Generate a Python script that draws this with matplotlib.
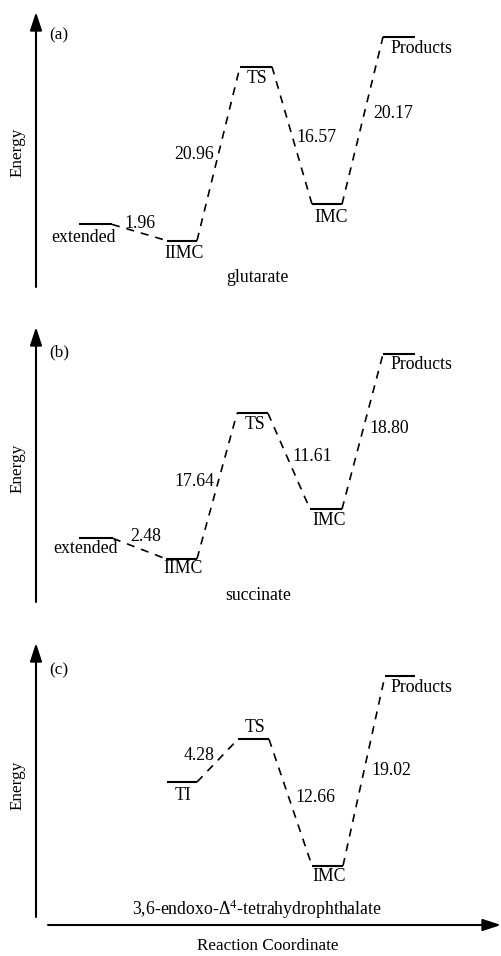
import numpy as np
import matplotlib
matplotlib.use('Agg')
import matplotlib.pyplot as plt

plt.rcParams['font.family'] = ['Liberation Serif', 'DejaVu Serif']
plt.rcParams['mathtext.fontset'] = 'custom'
plt.rcParams['mathtext.rm'] = 'Liberation Serif'
plt.rcParams['mathtext.it'] = 'Liberation Serif:italic'

W, H = 502, 956

# --- data: states and energy steps (kcal/mol) between consecutive states ---
glut_states = ['extended', 'IIMC', 'TS', 'IMC', 'Products']
glut_steps = [-1.96, 20.96, -16.57, 20.17]

succ_states = ['extended', 'IIMC', 'TS', 'IMC', 'Products']
succ_steps = [-2.48, 17.64, -11.61, 18.80]

endo_states = ['TI', 'TS', 'IMC', 'Products']
endo_steps = [4.28, -12.66, 19.02]

panel_tags = ['(a)', '(b)', '(c)']
panel_names = ['glutarate', 'succinate', '3,6-endoxo-Δ$^4$-tetrahydrophthalate']

# --- layout (pixels) ---
# panel: (top, bottom, px per kcal, pixel row of energy 0)
panel_geom = [(0, 300, 8.3, 224.4), (300, 620, 8.25, 538.4), (620, 956, 10.0, 782.0)]
level_x = [
    [(79, 112), (167, 197), (240, 272), (312, 342), (383, 415)],
    [(79, 113), (166, 197), (237, 268), (310, 342), (383, 415)],
    [(167, 197), (238, 269), (312, 343), (385, 415)],
]
# name label offsets from level centre (dx, dy down, ha)
name_off = [
    [(-12, 13, 'center'), (2, 13, 'center'), (1, 12, 'center'), (4, 13, 'center'), (-9, 12, 'left')],
    [(-10, 10, 'center'), (1.5, 10, 'center'), (2.5, 11.5, 'center'), (3, 11, 'center'), (-9, 10, 'left')],
    [(1, 13, 'center'), (1.5, -12, 'center'), (1.5, 11, 'center'), (-10, 12, 'left')],
]
# barrier label offsets from connector midpoint (dx, dy down)
step_off = [
    [(0.5, -9.5), (-24.5, 1), (24, 2.5), (30.5, -7.5)],
    [(6.5, -12.5), (-23, -5), (23, -5), (26.5, -3.5)],
    [(-18.5, -5.5), (24.5, -5.5), (27, 0)],
]
name_xy = [(257, 278), (258, 595), (257, 909)]
tag_xy = [(59, 35), (59, 352), (59, 670)]
energy_y = [152, 468, 785]
vaxis = [(287, 12), (602, 327), (917, 643)]

FS = 12.8

fig = plt.figure(figsize=(W / 100, H / 100), dpi=100)
overlay = fig.add_axes([0, 0, 1, 1])
overlay.set_xlim(0, W)
overlay.set_ylim(H, 0)
overlay.axis('off')

panels = [(glut_states, glut_steps), (succ_states, succ_steps), (endo_states, endo_steps)]
for i, (states, steps) in enumerate(panels):
    top, bot, s, y0 = panel_geom[i]
    ax = fig.add_axes([0, 1 - bot / H, 1, (bot - top) / H])
    ax.set_xlim(0, W)
    ax.set_ylim((y0 - bot) / s, (y0 - top) / s)
    ax.axis('off')

    energies = np.concatenate([[0.0], np.cumsum(steps)])
    xs = level_x[i]

    for j, e in enumerate(energies):
        x1, x2 = xs[j]
        ax.plot([x1, x2], [e, e], color='black', lw=1.5, solid_capstyle='butt')
        dx, dy, ha = name_off[i][j]
        ax.annotate(states[j], xy=((x1 + x2) / 2, e), xytext=(dx, -dy),
                    textcoords='offset pixels', ha=ha, va='center', fontsize=FS)

    for j, st in enumerate(steps):
        xa, ya = xs[j][1], energies[j]
        xb, yb = xs[j + 1][0], energies[j + 1]
        ax.plot([xa, xb], [ya, yb], color='black', lw=1.2, dashes=(4.8, 4.2))
        dx, dy = step_off[i][j]
        ax.annotate(f'{abs(st):.2f}', xy=((xa + xb) / 2, (ya + yb) / 2), xytext=(dx, -dy),
                    textcoords='offset pixels', ha='center', va='center', fontsize=FS)

    # axes and texts
    yb_, yt_ = vaxis[i]
    overlay.annotate('', xy=(36, yt_), xytext=(36, yb_),
                     arrowprops=dict(arrowstyle='-|>,head_length=0.55,head_width=0.18',
                                     color='black', lw=1.5, mutation_scale=20,
                                     shrinkA=0, shrinkB=0))
    overlay.text(18, energy_y[i], 'Energy', rotation=90, ha='center', va='center', fontsize=12.3)
    overlay.text(tag_xy[i][0], tag_xy[i][1], panel_tags[i], ha='center', va='center', fontsize=12.3)
    overlay.text(name_xy[i][0], name_xy[i][1], panel_names[i], ha='center', va='center', fontsize=FS)

overlay.annotate('', xy=(501, 925), xytext=(48, 925),
                 arrowprops=dict(arrowstyle='-|>,head_length=0.55,head_width=0.18',
                                 color='black', lw=1.5, mutation_scale=20,
                                 shrinkA=0, shrinkB=0))
overlay.text(268, 946, 'Reaction Coordinate', ha='center', va='center', fontsize=12.3)

fig.savefig('out.png', dpi=100)
